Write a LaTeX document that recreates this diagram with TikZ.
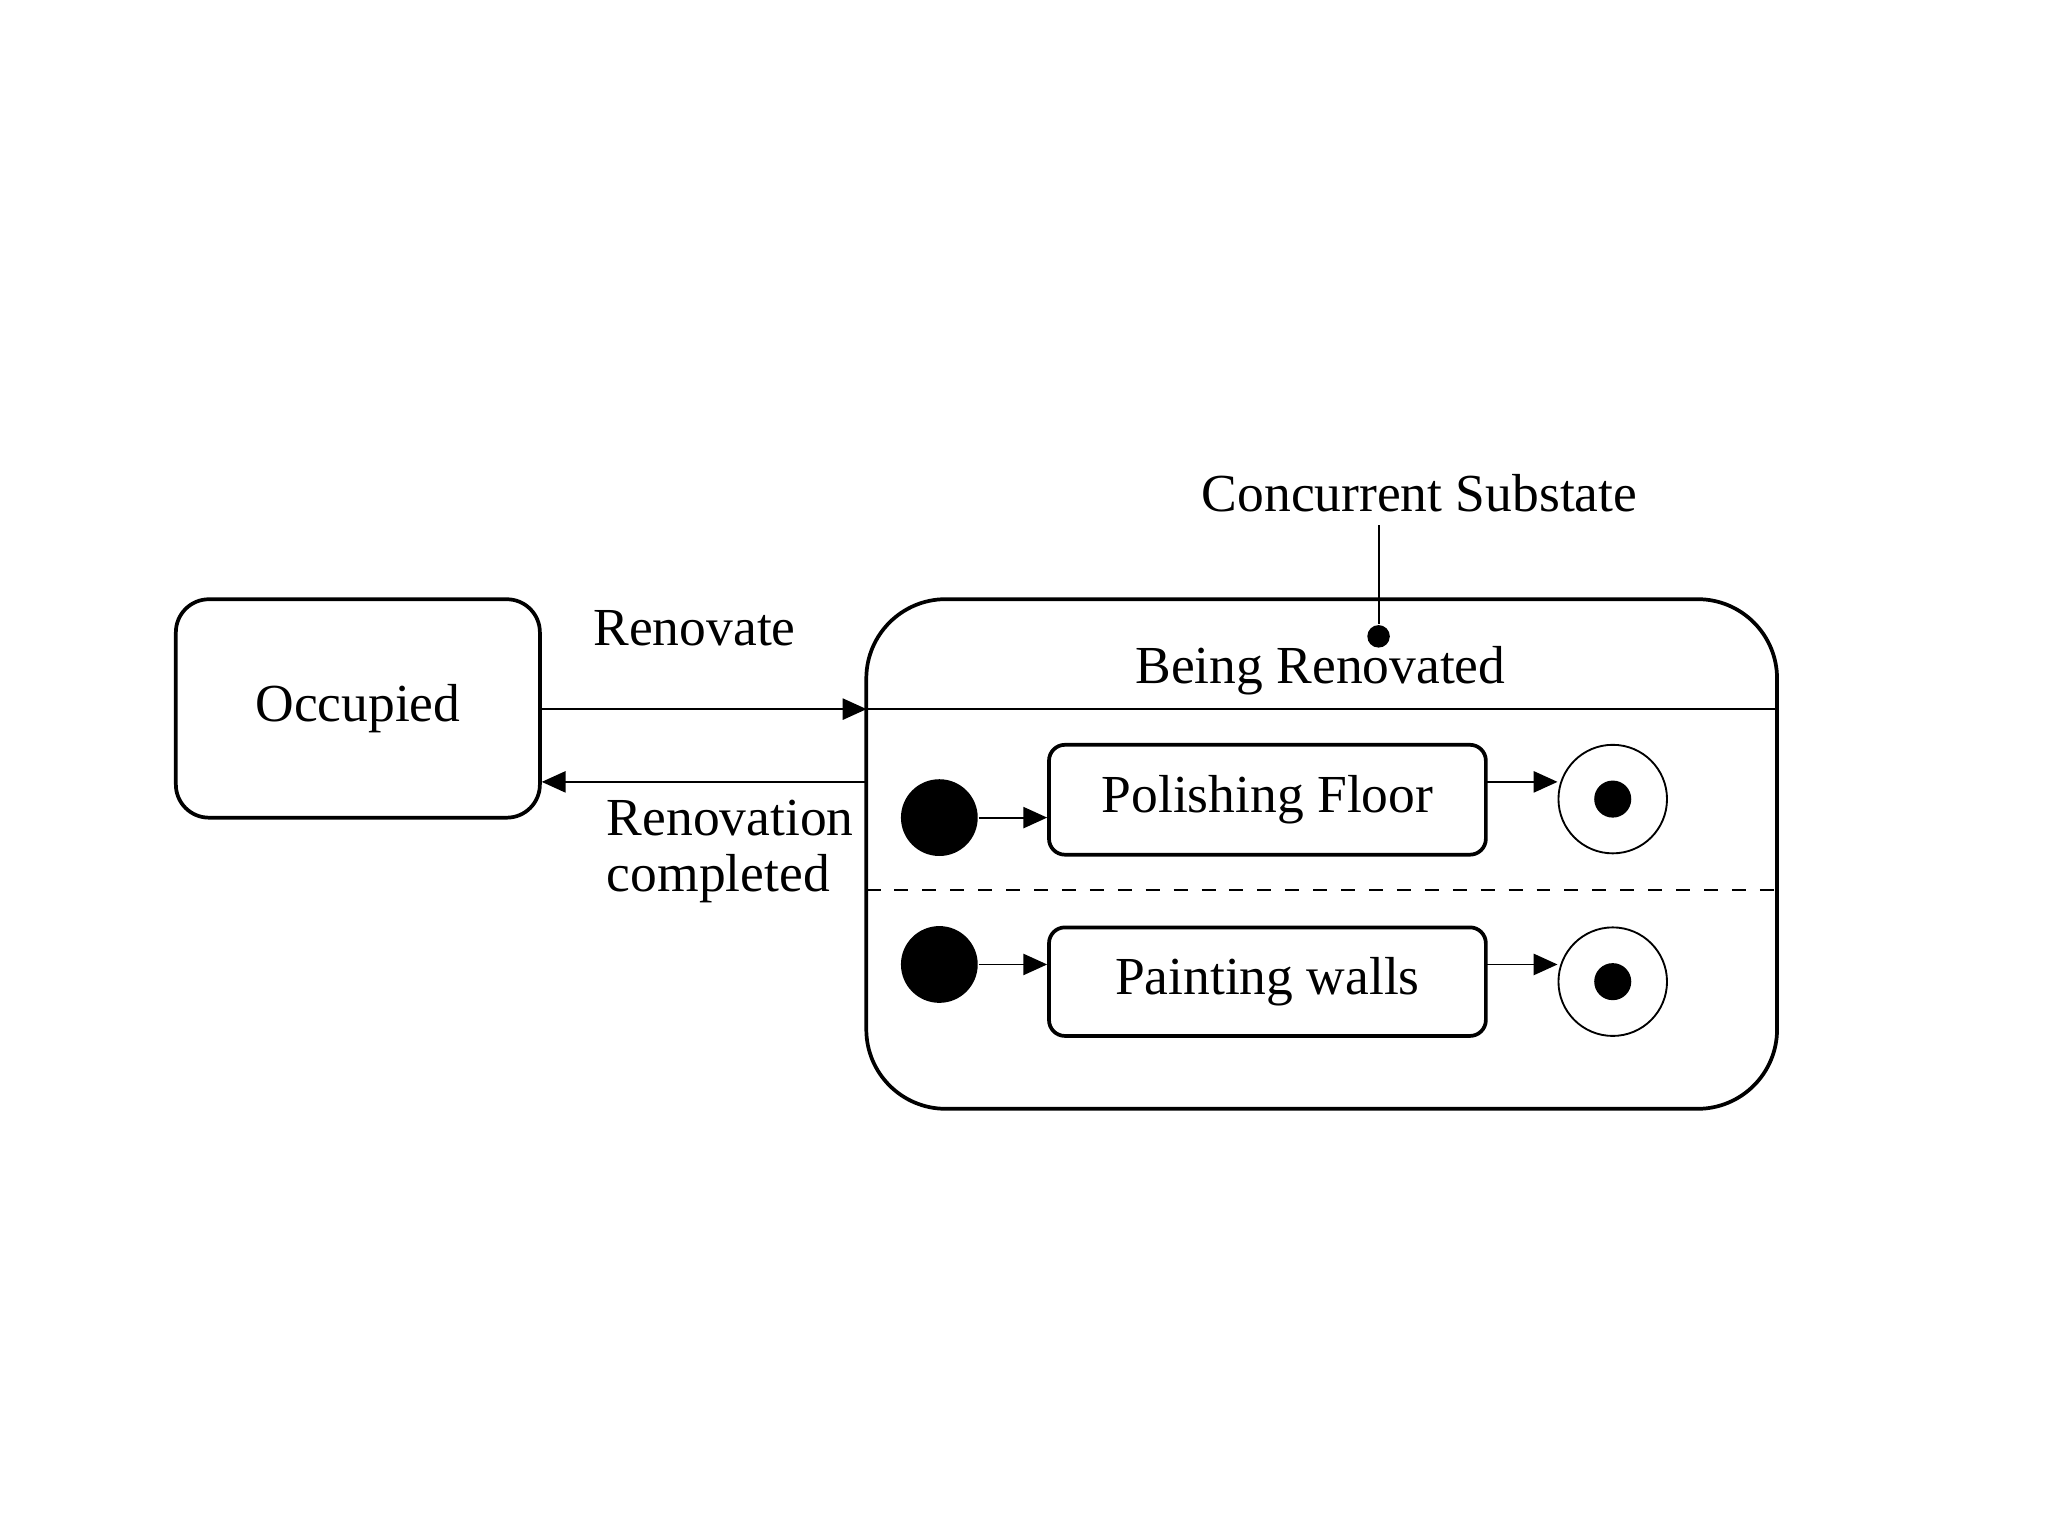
\documentclass[tikz,border=0pt]{standalone}
\usepackage{fontspec}
\setmainfont{Liberation Serif}
\usetikzlibrary{arrows.meta}
\begin{document}
\begin{tikzpicture}[x=0.01cm,y=-0.01cm,
  every node/.style={font=\fontsize{11.5}{14}\selectfont},
  st/.style={draw,thick,rounded corners=#1,inner sep=0pt},
  tr/.style={-{Triangle[length=0.18cm,width=0.16cm]}},
  init/.style={circle,fill=black,minimum size=0.58cm,inner sep=0pt},
  fin/.style={circle,draw,minimum size=0.82cm,inner sep=0pt}]
\useasboundingbox (0,0) rectangle (1548,1161);
% states
\node[st=0.25cm,minimum width=2.75cm,minimum height=1.65cm] (occ) at (270.5,535.5) {Occupied};
\node[st=0.6cm,minimum width=6.88cm,minimum height=3.85cm] (ren) at (999,645.5) {};
\node (renl) at (998,507) {Being Renovated};
\coordinate (rw) at (655,536); \coordinate (re) at (1343,536);
\draw (rw) -- (re);
\draw[dashed] (655,673) -- (1343,673);
% substate label
\node (cs) at (1073,373) {Concurrent Substate};
\node[circle,fill=black,minimum size=0.17cm,inner sep=0pt] (csd) at (1042,481) {};
\draw (1042,397) -- (csd);
% transitions between states
\draw[tr] (occ.east |- rw) -- (rw);
\coordinate (back) at (655,591);
\draw[tr] (back) -- (occ.east |- back);
\node[anchor=south] (lr) at (525,501) {Renovate};
\node[anchor=north west,align=left,inner sep=0pt] (lrc) at (458,604) {Renovation\\[-2pt]completed};
% region 1
\node[init] (i1) at (710,618) {};
\node[st=0.12cm,minimum width=3.3cm,minimum height=0.83cm] (pf) at (958,604.5) {Polishing Floor};
\node[fin] (f1) at (1219,604) {};
\node[circle,fill=black,minimum size=0.28cm,inner sep=0pt] at (f1) {};
\draw[tr] (i1) -- (pf.west |- i1);
\draw[tr] (1123,591) -- (f1.west |- 0,591);
% region 2
\node[init] (i2) at (710,729) {};
\node[st=0.12cm,minimum width=3.3cm,minimum height=0.82cm] (pw) at (958,742) {Painting walls};
\node[fin] (f2) at (1219,742) {};
\node[circle,fill=black,minimum size=0.28cm,inner sep=0pt] at (f2) {};
\draw[tr] (i2) -- (pw.west |- i2);
\draw[tr] (1123,729) -- (f2.west |- 0,729);
\end{tikzpicture}
\end{document}
